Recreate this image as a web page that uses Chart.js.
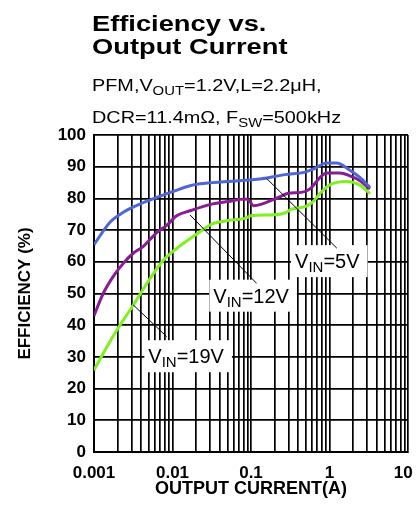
<!DOCTYPE html>
<html>
<head>
<meta charset="utf-8">
<script src="https://cdn.jsdelivr.net/npm/chart.js@4/dist/chart.umd.min.js"></script>
<style>
  body { margin: 0; background: #fff; }
  #wrap { position: relative; width: 417px; height: 506px; }
  .hd { position: absolute; left: 92px; white-space: nowrap; color: #000;
        font-family: 'Liberation Sans', Arial, sans-serif; transform-origin: 0 0; transform: scaleX(1.24); }
  .t { font-size: 22px; font-weight: bold; line-height: 22px; }
  .s { font-size: 16px; line-height: 16px; }
  .s sub { font-size: 12px; vertical-align: -4px; line-height: 0; }
</style>
</head>
<body>
<div id="wrap">
  <canvas id="effChart" width="417" height="506"></canvas>
  <div class="hd t" style="top:13px">Efficiency vs.</div>
  <div class="hd t" style="top:36px">Output Current</div>
  <div class="hd s" style="top:78px">PFM,V<sub>OUT</sub>=1.2V,L=2.2μH,</div>
  <div class="hd s" style="top:110px">DCR=11.4mΩ, F<sub>SW</sub>=500kHz</div>
</div>
<script>
// data (output current in A, efficiency in %)
const current5 = [0.001, 0.0016, 0.00236, 0.00385, 0.0063, 0.0102, 0.0167, 0.0224, 0.051, 0.137, 0.271, 0.488, 0.62, 0.92, 1.23, 1.82, 2.44, 3.28];
const eff5 = [65.4, 72.5, 75.6, 78.2, 80.3, 82.2, 84.0, 84.6, 85.3, 86.2, 87.5, 88.3, 89.2, 91.2, 91.2, 88.9, 86.6, 83.5];

const current12 = [0.001, 0.00131, 0.00176, 0.00236, 0.00316, 0.00425, 0.0063, 0.00844, 0.0113, 0.0167, 0.0316, 0.051, 0.0838, 0.095, 0.107, 0.137, 0.223, 0.3, 0.44, 0.565, 0.757, 0.92, 1.36, 1.82, 2.44, 3.28];
const eff12 = [43, 50, 55.4, 59.5, 62.7, 64.9, 69.2, 71.5, 74.5, 76.1, 78.2, 79.0, 79.8, 79.3, 77.7, 78.2, 80.3, 81.6, 81.9, 83.0, 86.6, 88.0, 88.0, 87.1, 85.6, 83.0];

const current19 = [0.001, 0.00131, 0.00195, 0.00316, 0.00517, 0.00764, 0.0113, 0.0167, 0.0224, 0.0316, 0.051, 0.0838, 0.1, 0.183, 0.271, 0.33, 0.488, 0.62, 0.76, 1.0, 1.66, 2.44, 3.28];
const eff19 = [25.8, 31.1, 38.4, 46.3, 54.7, 60.5, 64.2, 67.3, 69.5, 71.9, 73.0, 73.7, 74.5, 74.8, 75.4, 76.6, 77.4, 79.0, 81.6, 84.2, 85.3, 84.2, 81.5];

const xTickValues = [0.001, 0.01, 0.1, 1, 10];
const xTickLabels = ['0.001', '0.01', '0.1', '1', '10  '];  // trailing spaces keep "10" inside the canvas

const FONT = "'Liberation Sans', Arial, sans-serif";

function pts(xs, ys) {
  return xs.map((x, i) => ({x: x, y: ys[i]}));
}

// V_IN labels with leader lines, placed in data coordinates
const notes = [
  {vin: '5V',  from: [0.158, 86.3],  to: [1.24, 64.3],  text: [0.364, 58.0]},
  {vin: '12V', from: [0.0167, 74.8], to: [0.118, 53.2], text: [0.0331, 47.1]},
  {vin: '19V', from: [0.00316, 46.4], to: [0.00844, 36.4], text: [0.00492, 28.0]}
];

const notePlugin = {
  id: 'notes',
  afterDatasetsDraw(chart) {
    const {ctx, scales: {x, y}} = chart;
    ctx.save();
    notes.forEach(n => {
      const tx = x.getPixelForValue(n.text[0]);
      const ty = y.getPixelForValue(n.text[1]);
      ctx.font = '20px ' + FONT;
      const wV = ctx.measureText('V').width;
      const wRest = ctx.measureText('=' + n.vin).width;
      ctx.font = '15px ' + FONT;
      const wSub = ctx.measureText('IN').width;
      const w = wV + wSub + wRest;
      // white box hides the grid behind the label
      ctx.fillStyle = '#fff';
      ctx.fillRect(tx - 4, ty - 23, w + 12, 32);
      // leader line
      ctx.strokeStyle = '#000';
      ctx.lineWidth = 1;
      ctx.beginPath();
      ctx.moveTo(x.getPixelForValue(n.from[0]), y.getPixelForValue(n.from[1]));
      ctx.lineTo(x.getPixelForValue(n.to[0]), y.getPixelForValue(n.to[1]));
      ctx.stroke();
      // text
      ctx.fillStyle = '#000';
      ctx.textBaseline = 'alphabetic';
      ctx.textAlign = 'left';
      ctx.font = '20px ' + FONT;
      ctx.fillText('V', tx, ty);
      ctx.font = '15px ' + FONT;
      ctx.fillText('IN', tx + wV, ty + 4);
      ctx.font = '20px ' + FONT;
      ctx.fillText('=' + n.vin, tx + wV + wSub, ty);
    });
    ctx.restore();
  }
};

const data = {
  datasets: [
    {label: 'VIN=5V', data: pts(current5, eff5), borderColor: '#5066d6'},
    {label: 'VIN=12V', data: pts(current12, eff12), borderColor: '#8b1a96'},
    {label: 'VIN=19V', data: pts(current19, eff19), borderColor: '#80f020'}
  ].map(d => Object.assign(d, {borderWidth: 3, pointRadius: 0, fill: false, cubicInterpolationMode: 'monotone'}))
};

const config = {
  type: 'line',
  data,
  options: {
    responsive: false,
    animation: false,
    layout: {padding: {top: 135, right: 9, left: 0, bottom: 0}},
    plugins: {
      legend: {display: false},
      tooltip: {enabled: false}
    },
    scales: {
      x: {
        type: 'logarithmic',
        min: 0.001,
        max: 10,
        afterBuildTicks: s => {
          const t = [];
          for (let i = 0; i < xTickValues.length - 1; i++) {
            for (let m = 1; m <= 9; m++) t.push({value: xTickValues[i] * m});
          }
          t.push({value: xTickValues[xTickValues.length - 1]});
          s.ticks = t;
        },
        afterFit: s => { s.height = 54; s.paddingLeft = 0; s.paddingRight = 0; },
        grid: {color: '#000', lineWidth: 1.7, drawTicks: false},
        border: {color: '#000', width: 2},
        ticks: {
          autoSkip: false, maxRotation: 0, minRotation: 0, padding: 11, color: '#000',
          font: {family: FONT, size: 17, weight: 'bold'},
          callback: v => {
            const i = xTickValues.findIndex(t => Math.abs(t - v) < t * 1e-6);
            return i >= 0 ? xTickLabels[i] : '';
          }
        },
        title: {display: true, text: 'OUTPUT CURRENT(A)', color: '#000',
                font: {family: FONT, size: 18, weight: 'bold'}, padding: {top: 0, bottom: 6}}
      },
      y: {
        min: 0,
        max: 100,
        afterFit: s => { s.width = 94; s.paddingTop = 0; s.paddingBottom = 0; },
        grid: {color: '#000', lineWidth: 1.7, drawTicks: false},
        border: {color: '#000', width: 2},
        ticks: {stepSize: 10, padding: 8, color: '#000', font: {family: FONT, size: 17, weight: 'bold'}},
        title: {display: true, text: 'EFFICIENCY (%)', color: '#000',
                font: {family: FONT, size: 17, weight: 'bold'}, padding: {top: 15, bottom: 0}}
      }
    }
  },
  plugins: [notePlugin]
};

const effChart = new Chart(document.getElementById('effChart'), config);
</script>
</body>
</html>
